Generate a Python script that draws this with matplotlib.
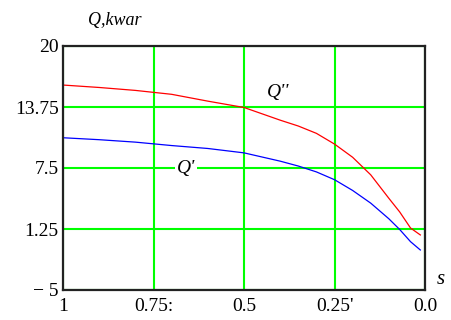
import matplotlib
matplotlib.use("Agg")
import matplotlib.pyplot as plt

# slip s and reactive power Q (kvar)
s = [1.0, 0.9, 0.8, 0.7, 0.6, 0.5, 0.4, 0.35, 0.3, 0.25, 0.2, 0.15, 0.1, 0.07, 0.04, 0.013]
q2 = [16.0, 15.75, 15.45, 15.05, 14.35, 13.7, 12.4, 11.8, 11.05, 9.95, 8.6, 6.8, 4.4, 3.0, 1.35, 0.64]   # Q''
q1 = [10.6, 10.4, 10.15, 9.8, 9.5, 9.05, 8.2, 7.7, 7.1, 6.3, 5.2, 3.9, 2.3, 1.2, -0.05, -0.9]           # Q'

x_ticks = [1, 0.75, 0.5, 0.25, 0.0]
x_labels = ["1", "0.75:", "0.5", "0.25'", "0.0"]
y_ticks = [20, 13.75, 7.5, 1.25, -5]
y_labels = ["20", "13.75", "7.5", "1.25", "\u2212 5"]

serif = "Liberation Serif"

fig = plt.figure(figsize=(4.51, 3.2), dpi=100)
ax = fig.add_axes([0.1397, 0.09375, 0.8027, 0.7625])

ax.plot(s, q2, color="red", lw=0.9)
ax.plot(s, q1, color="blue", lw=0.9)

ax.set_xlim(1, 0)
ax.set_ylim(-5, 20)
ax.set_xticks(x_ticks)
ax.set_xticklabels(x_labels, family=serif, fontsize=14)
ax.set_yticks(y_ticks)
ax.set_yticklabels(y_labels, family=serif, fontsize=14)
ax.tick_params(length=0, pad=3)
ax.tick_params(axis="x", pad=6)
ax.grid(True, color="#00ff00", lw=1.5)
ax.set_axisbelow(True)
for sp in ax.spines.values():
    sp.set_linewidth(1.6)
    sp.set_color("#222222")

# curve labels
ax.text(0.406, 15.2, "Q''", family=serif, style="italic", fontsize=14,
        ha="center", va="center")
ax.text(0.66, 7.5, "Q'", family=serif, style="italic", fontsize=14,
        ha="center", va="center",
        bbox=dict(facecolor="white", edgecolor="none", pad=1.5))

fig.text(0.255, 0.937, "Q,kwar", family=serif, style="italic", fontsize=13,
         ha="center", va="center")
fig.text(0.978, 0.125, "s", family=serif, style="italic", fontsize=15,
         ha="center", va="center")

fig.savefig("out.png", dpi=100)
